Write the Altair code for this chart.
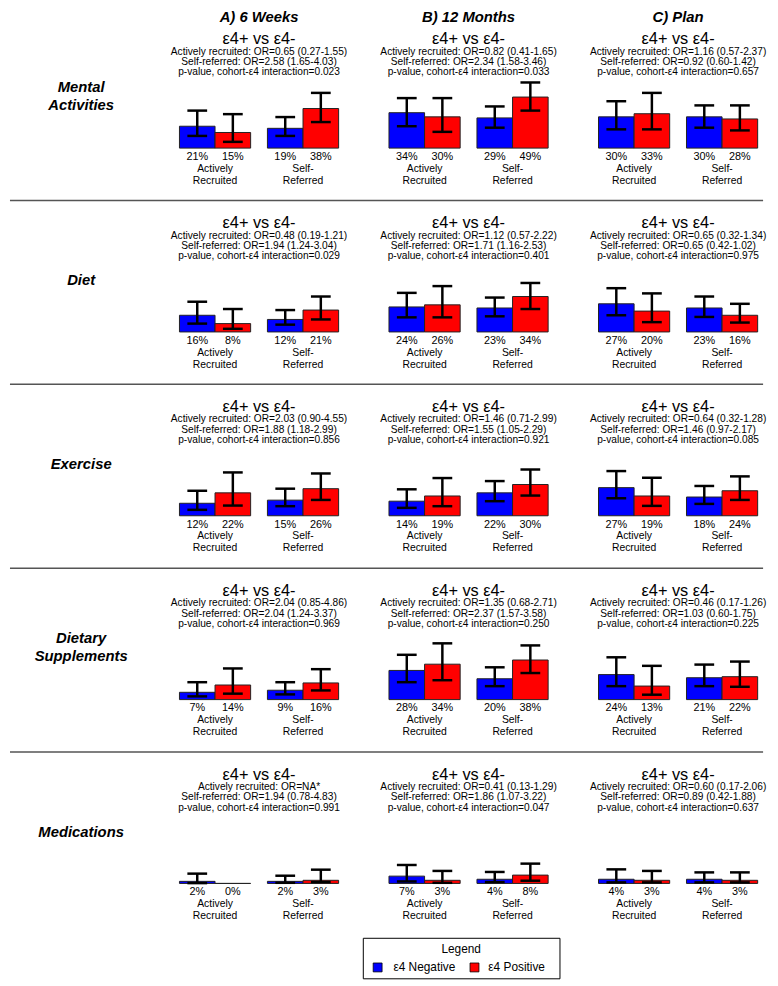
import altair as alt
import pandas as pd

FONT = "Liberation Sans"

activities = ["Mental Activities", "Diet", "Exercise", "Dietary Supplements", "Medications"]
activity_labels = ["Mental|Activities", "Diet", "Exercise", "Dietary|Supplements", "Medications"]
timepoints = ["A) 6 Weeks", "B) 12 Months", "C) Plan"]
cohorts = ["Actively Recruited", "Self-Referred"]
cohort_labels = ["Actively|Recruited", "Self-|Referred"]
apoe = ["ε4 Negative", "ε4 Positive"]
colors = ["#0000FF", "#FF0000"]

# order inside each panel: [Actively e4-, Actively e4+, Self e4-, Self e4+]
pct_mental = [[21, 15, 19, 38], [34, 30, 29, 49], [30, 33, 30, 28]]
pct_diet = [[16, 8, 12, 21], [24, 26, 23, 34], [27, 20, 23, 16]]
pct_exercise = [[12, 22, 15, 26], [14, 19, 22, 30], [27, 19, 18, 24]]
pct_supp = [[7, 14, 9, 16], [28, 34, 20, 38], [24, 13, 21, 22]]
pct_med = [[2, 0, 2, 3], [7, 3, 4, 8], [4, 3, 4, 3]]

lo_mental = [[11.7, 6, 11.7, 25], [21, 15.6, 19.6, 36], [18, 18, 19.6, 17]]
hi_mental = [[36, 32.6, 29.8, 53], [48, 48, 40, 63], [45, 53, 41, 41]]
lo_diet = [[8, 3, 7, 12], [14, 14, 15, 22], [16, 9.4, 14.4, 9]]
hi_diet = [[29, 22, 21, 34], [37.5, 44, 33, 47], [42, 37, 34, 27]]
lo_exercise = [[5.7, 9.8, 9.2, 15.2], [7.6, 9.2, 14, 19.4], [16.8, 9.5, 11.4, 15.2]]
hi_exercise = [[24, 41.6, 26, 40.6], [25.4, 36.2, 33.3, 44.4], [42.9, 36.5, 28.6, 37.8]]
lo_supp = [[3.1, 5.7, 5, 8.8], [16.7, 18.6, 12.9, 25.5], [12.9, 4.7, 12.9, 12.3]]
hi_supp = [[16.7, 29.9, 16.7, 29.2], [43, 54, 31, 52], [40.6, 32.4, 33.6, 36.5]]
lo_med = [[0.3, None, 0.6, 1.3], [1.9, 0.6, 1.3, 2.6], [1, 1, 1, 1]]
hi_med = [[9.4, None, 7.4, 13.2], [17.7, 12, 11, 19], [13.5, 12, 10.6, 10.6]]

or_active = [
    ["0.65 (0.27-1.55)", "0.82 (0.41-1.65)", "1.16 (0.57-2.37)"],
    ["0.48 (0.19-1.21)", "1.12 (0.57-2.22)", "0.65 (0.32-1.34)"],
    ["2.03 (0.90-4.55)", "1.46 (0.71-2.99)", "0.64 (0.32-1.28)"],
    ["2.04 (0.85-4.86)", "1.35 (0.68-2.71)", "0.46 (0.17-1.26)"],
    ["NA*", "0.41 (0.13-1.29)", "0.60 (0.17-2.06)"],
]
or_self = [
    ["2.58 (1.65-4.03)", "2.34 (1.58-3.46)", "0.92 (0.60-1.42)"],
    ["1.94 (1.24-3.04)", "1.71 (1.16-2.53)", "0.65 (0.42-1.02)"],
    ["1.88 (1.18-2.99)", "1.55 (1.05-2.29)", "1.46 (0.97-2.17)"],
    ["2.04 (1.24-3.37)", "2.37 (1.57-3.58)", "1.03 (0.60-1.75)"],
    ["1.94 (0.78-4.83)", "1.86 (1.07-3.22)", "0.89 (0.42-1.88)"],
]
p_interaction = [
    ["0.023", "0.033", "0.657"],
    ["0.029", "0.401", "0.975"],
    ["0.856", "0.921", "0.085"],
    ["0.969", "0.250", "0.225"],
    ["0.991", "0.047", "0.637"],
]

PCT = [pct_mental, pct_diet, pct_exercise, pct_supp, pct_med]
LO = [lo_mental, lo_diet, lo_exercise, lo_supp, lo_med]
HI = [hi_mental, hi_diet, hi_exercise, hi_supp, hi_med]

W, H = 184, 68
Y_MAX = 64.5
LABEL_W = 132
SPACING = 26
TOTAL_W = LABEL_W + 3 * W + 3 * SPACING  # 762


def spacer(w, h):
    # invisible filler used only to reserve room in the layout
    return alt.Chart(pd.DataFrame({"d": [0]})).mark_rule(opacity=0, strokeOpacity=0).encode(
        x=alt.value(0), x2=alt.value(w), y=alt.value(h / 2)
    ).properties(width=w, height=h)


def header_text(txt, y, size):
    return alt.Chart(pd.DataFrame({"t": [txt]})).mark_text(
        fontSize=size, align="center", baseline="middle", color="black"
    ).encode(x=alt.value(W / 2), y=alt.value(y), text="t:N")


def panel(ai, ti):
    rows = []
    for ci, c in enumerate(cohorts):
        for gi, g in enumerate(apoe):
            k = ci * 2 + gi
            rows.append(dict(cohort=c, apoe=g, pct=PCT[ai][ti][k],
                             lo=LO[ai][ti][k], hi=HI[ai][ti][k],
                             label=f"{PCT[ai][ti][k]}%"))
    df = pd.DataFrame(rows)
    dfe = df.dropna(subset=["lo", "hi"])
    cdf = pd.DataFrame({"cohort": cohorts, "glabel": cohort_labels})

    xs = alt.Scale(domain=cohorts, paddingInner=0.191, paddingOuter=0.129)
    xenc = alt.X("cohort:N", sort=cohorts, axis=None, scale=xs)
    xoff = alt.XOffset("apoe:N", sort=apoe,
                       scale=alt.Scale(domain=apoe, paddingInner=0, paddingOuter=0))
    ys = alt.Scale(domain=[0, Y_MAX], nice=False)

    bars = alt.Chart(df).mark_bar(stroke="#222", strokeWidth=1).encode(
        x=xenc, xOffset=xoff,
        y=alt.Y("pct:Q", axis=None, scale=ys),
        color=alt.Color("apoe:N", scale=alt.Scale(domain=apoe, range=colors), legend=None),
    )
    rules = alt.Chart(dfe).mark_rule(color="black", strokeWidth=2.5).encode(
        x=xenc, xOffset=xoff, y=alt.Y("lo:Q", scale=ys, axis=None), y2="hi:Q"
    )
    cap_hi = alt.Chart(dfe).mark_tick(color="black", thickness=2.5, size=20,
                                      orient="horizontal", opacity=1).encode(
        x=xenc, xOffset=xoff, y=alt.Y("hi:Q", scale=ys, axis=None)
    )
    cap_lo = alt.Chart(dfe).mark_tick(color="black", thickness=2.5, size=20,
                                      orient="horizontal", opacity=1).encode(
        x=xenc, xOffset=xoff, y=alt.Y("lo:Q", scale=ys, axis=None)
    )
    pcts = alt.Chart(df).mark_text(fontSize=11, baseline="middle", dy=9, color="black").encode(
        x=xenc, xOffset=xoff, y=alt.datum(0), text="label:N"
    )
    glabels = alt.Chart(cdf).mark_text(fontSize=10.5, baseline="top", dy=16, lineBreak="|",
                                       lineHeight=12, color="black").encode(
        x=xenc, y=alt.datum(0), text="glabel:N"
    )
    heads = [
        header_text("ε4+ vs ε4-", -42, 16.5),
        header_text(f"Actively recruited: OR={or_active[ai][ti]}", -29.5, 10.3),
        header_text(f"Self-referred: OR={or_self[ai][ti]}", -19, 10.3),
        header_text(f"p-value, cohort-ε4 interaction={p_interaction[ai][ti]}", -8.5, 10.3),
    ]
    ch = alt.layer(bars, rules, cap_hi, cap_lo, pcts, glabels, *heads).properties(width=W, height=H)
    if ai == 0:
        ch = ch.properties(title=alt.TitleParams(
            text=timepoints[ti], fontSize=15, fontWeight="bold", fontStyle="italic",
            font=FONT, color="black", anchor="middle", frame="group", offset=7,
        ))
    return ch


def row_label(ai):
    n_lines = activity_labels[ai].count("|") + 1
    y_pos = 16 - 9 * (n_lines - 1) - (1 if n_lines > 1 else 0)
    return alt.Chart(pd.DataFrame({"t": [activity_labels[ai]]})).mark_text(
        fontSize=15, fontWeight="bold", fontStyle="italic", lineBreak="|",
        lineHeight=18, align="center", baseline="middle", color="black"
    ).encode(x=alt.value(72), y=alt.value(y_pos), text="t:N").properties(width=LABEL_W, height=H)


def separator():
    return alt.Chart(pd.DataFrame({"d": [0]})).mark_rule(color="#555", strokeWidth=1.5).encode(
        x=alt.value(0), x2=alt.value(TOTAL_W), y=alt.value(13)
    ).properties(width=TOTAL_W, height=26)


rows = []
for ai in range(len(activities)):
    rows.append(alt.hconcat(row_label(ai), *[panel(ai, t) for t in range(3)], spacing=SPACING))

# legend box (drawn by hand, colours from the same palette)
leg_layers = [
    alt.Chart(pd.DataFrame({"t": ["Legend"]})).mark_text(
        fontSize=12, align="center", baseline="middle", color="black"
    ).encode(x=alt.value(99.5), y=alt.value(11), text="t:N")
]
sq_x = [15, 113]
tx_x = [31, 127]
for i, name in enumerate(apoe):
    item = pd.DataFrame({"apoe": [name]})
    leg_layers.append(
        alt.Chart(item).mark_square(size=81, filled=True, stroke="black", strokeWidth=0.8,
                                    opacity=1).encode(
            x=alt.value(sq_x[i]), y=alt.value(30),
            color=alt.Color("apoe:N", scale=alt.Scale(domain=apoe, range=colors), legend=None),
        )
    )
    leg_layers.append(
        alt.Chart(item).mark_text(fontSize=12, align="left", baseline="middle",
                                  color="black").encode(
            x=alt.value(tx_x[i]), y=alt.value(30), text="apoe:N"
        )
    )
legend_box = alt.layer(*leg_layers).properties(
    width=199, height=41, view=alt.ViewBackground(stroke="black", strokeWidth=1)
)
legend_row = alt.hconcat(spacer(355, 41), legend_box, spacing=0)

parts = []
for i, r in enumerate(rows):
    parts.append(r)
    if i < len(rows) - 1:
        parts.append(separator())
parts.append(spacer(10, 13))
parts.append(legend_row)

chart = alt.vconcat(*parts, spacing=0).properties(
    padding={"top": -5, "left": 0, "right": 0, "bottom": 0}
).configure(font=FONT, view=alt.ViewConfig(stroke="transparent"))

chart.save("out.html", embed_options={"renderer": "svg", "actions": False})
